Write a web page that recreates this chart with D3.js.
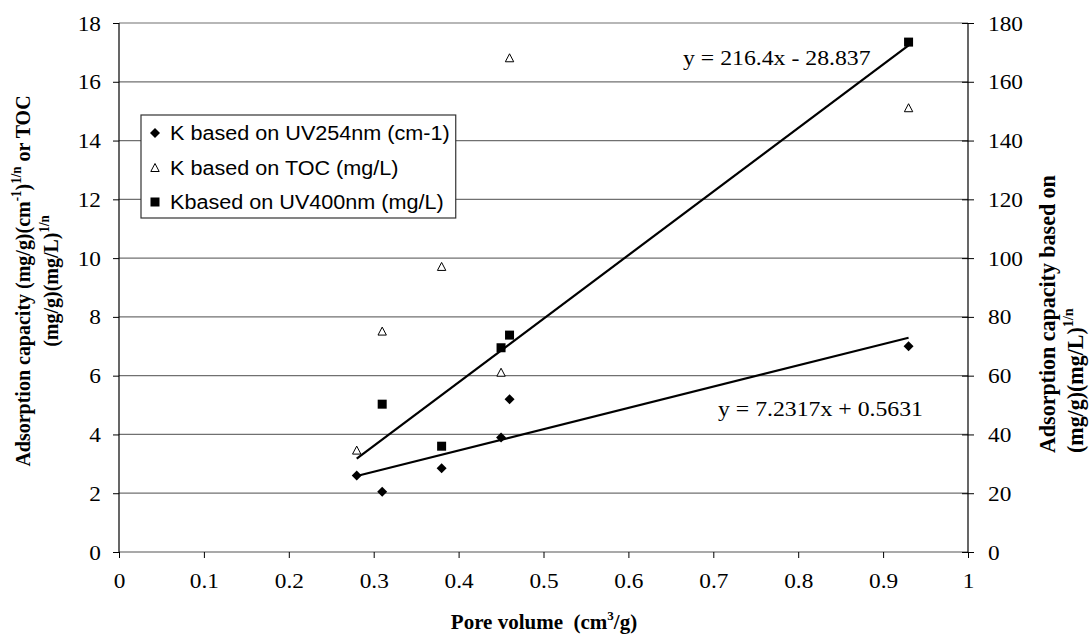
<!DOCTYPE html>
<html><head><meta charset="utf-8">
<script src="https://cdn.jsdelivr.net/npm/d3@7"></script>
<style>body{margin:0;background:#fff}svg{display:block}</style>
</head><body>
<svg id="chart" width="1092" height="642"></svg>
<script>
// ---- data ----
const poreVolume = [0.28, 0.31, 0.38, 0.45, 0.46, 0.93];
const kUV254 = [2.6, 2.05, 2.85, 3.9, 5.2, 7.0];          // left axis
const kTOC = [3.45, 7.5, 9.7, 6.1, 16.8, 15.1];          // left axis
const kUV400 = [null, 50.3, 36.0, 69.5, 73.8, 173.5];    // right axis
const xTicks = [0, 0.1, 0.2, 0.3, 0.4, 0.5, 0.6, 0.7, 0.8, 0.9, 1];
const yLeftTicks = [0, 2, 4, 6, 8, 10, 12, 14, 16, 18];
const yRightTicks = [0, 20, 40, 60, 80, 100, 120, 140, 160, 180];
const fitUV254 = {slope: 7.2317, intercept: 0.5631, label: "y = 7.2317x + 0.5631"};
const fitUV400 = {slope: 216.4, intercept: -28.837, label: "y = 216.4x - 28.837"};
const legendLabels = ["K based on UV254nm (cm-1)", "K based on TOC (mg/L)", "Kbased on UV400nm (mg/L)"];

const svg = d3.select("#chart");
const L = 119, R = 968, T = 23, B = 552;
const x = d3.scaleLinear().domain([0, 1]).range([L, R]);
const yL = d3.scaleLinear().domain([0, 18]).range([B, T]);
const yR = d3.scaleLinear().domain([0, 180]).range([B, T]);
const SERIF = "Liberation Serif, Times New Roman, serif";
const SANS = "Liberation Sans, Arial, sans-serif";

function stretch(sel, f) {
  sel.each(function () {
    const w = this.getComputedTextLength();
    d3.select(this).attr("textLength", w * f).attr("lengthAdjust", "spacingAndGlyphs");
  });
}

// gridlines
svg.append("g").selectAll("line").data(yLeftTicks.filter(d => d > 0)).join("line")
  .attr("x1", L).attr("x2", R).attr("y1", d => yL(d)).attr("y2", d => yL(d))
  .attr("stroke", "#707070").attr("stroke-width", 1.2);

// axes
const gx = svg.append("g").attr("transform", `translate(0,${B})`)
  .call(d3.axisBottom(x).tickValues(xTicks).tickSize(6).tickPadding(22).tickFormat(d3.format("")));
const gl = svg.append("g").attr("transform", `translate(${L},0)`)
  .call(d3.axisLeft(yL).tickValues(yLeftTicks).tickSize(6).tickPadding(12));
const gr = svg.append("g").attr("transform", `translate(${R},0)`)
  .call(d3.axisRight(yR).tickValues(yRightTicks).tickSizeInner(6).tickSizeOuter(0).tickPadding(14));
gr.selectAll(".tick line").attr("x1", -6);
[gx, gl, gr].forEach(g => {
  g.attr("font-family", null).attr("font-size", null);
  g.select(".domain").attr("stroke", "#000").attr("stroke-width", 1.2);
  g.selectAll(".tick line").attr("stroke", "#000");
  g.selectAll(".tick text").style("font-family", SERIF).style("font-size", "22px").attr("fill", "#000");
});
gx.select(".domain").attr("stroke", "#555").attr("d", `M${L},0H${R}`);
gl.select(".domain").attr("d", `M0,${T}V${B}`);
gr.select(".domain").attr("d", `M0,${T}V${B}`);
gx.selectAll(".tick text").attr("dy", "0.35em");
[gx, gl, gr].forEach(g => stretch(g.selectAll(".tick text"), 1.06));

// trendlines
const xr = [poreVolume[0], poreVolume[poreVolume.length - 1]];
svg.append("line")
  .attr("x1", x(xr[0])).attr("x2", x(xr[1]))
  .attr("y1", yL(fitUV254.slope * xr[0] + fitUV254.intercept))
  .attr("y2", yL(fitUV254.slope * xr[1] + fitUV254.intercept))
  .attr("stroke", "#000").attr("stroke-width", 2.2);
svg.append("line")
  .attr("x1", x(xr[0])).attr("x2", x(xr[1]))
  .attr("y1", yR(fitUV400.slope * xr[0] + fitUV400.intercept))
  .attr("y2", yR(fitUV400.slope * xr[1] + fitUV400.intercept))
  .attr("stroke", "#000").attr("stroke-width", 2.2);

// markers
function drawDiamond(g, cx, cy) {
  g.append("path").attr("d", "M0,-5L5,0L0,5L-5,0Z")
    .attr("transform", `translate(${cx},${cy})`).attr("fill", "#000");
}
function drawTri(g, cx, cy) {
  g.append("path").attr("d", "M0,-4.5L4.2,3.5L-4.2,3.5Z")
    .attr("transform", `translate(${cx},${cy})`).attr("fill", "#fff").attr("stroke", "#000").attr("stroke-width", 1);
}
function drawSq(g, cx, cy) {
  g.append("rect").attr("x", cx - 4.5).attr("y", cy - 4.5).attr("width", 9).attr("height", 9).attr("fill", "#000");
}
const mk = svg.append("g");
poreVolume.forEach((pv, i) => {
  drawTri(mk, x(pv), yL(kTOC[i]));
  if (kUV400[i] != null) drawSq(mk, x(pv), yR(kUV400[i]));
  drawDiamond(mk, x(pv), yL(kUV254[i]));
});

// equations
svg.append("text").attr("x", 683).attr("y", 65).style("font-family", SERIF).style("font-size", "22px")
  .text(fitUV400.label).call(s => stretch(s, 1.08));
svg.append("text").attr("x", 718).attr("y", 416).style("font-family", SERIF).style("font-size", "22px")
  .text(fitUV254.label).call(s => stretch(s, 1.08));

// legend
const lg = svg.append("g");
const rowY = [133, 168, 202];
const lgBox = lg.append("rect").attr("x", 141).attr("y", 115).attr("height", 103)
  .attr("fill", "#fff").attr("stroke", "#333").attr("stroke-width", 1.2);
let maxW = 0;
legendLabels.forEach((t, i) => {
  const tx = lg.append("text").attr("x", 170).attr("y", rowY[i]).attr("dy", "0.36em")
    .style("font-family", SANS).style("font-size", "20px").text(t);
  stretch(tx, 1.08);
  maxW = Math.max(maxW, +tx.attr("textLength"));
});
drawDiamond(lg, 155, rowY[0]);
drawTri(lg, 155, rowY[1]);
drawSq(lg, 155, rowY[2]);
lgBox.attr("width", 170 - 141 + maxW + 6);

// axis titles
const xt = svg.append("text").attr("x", 544).attr("y", 629).attr("text-anchor", "middle")
  .style("font-family", SERIF).style("font-size", "21px").style("font-weight", "bold");
xt.append("tspan").text("Pore volume\u00a0\u00a0(cm");
xt.append("tspan").style("font-size", "13px").attr("dy", -9).text("3");
xt.append("tspan").attr("dy", 9).text("/g)");

function rotTitle(tx, ty, anchor, size, parts) {
  const t = svg.append("text")
    .attr("transform", `translate(${tx},${ty}) scale(1.08,1) rotate(-90)`)
    .attr("text-anchor", anchor).style("font-family", SERIF).style("font-size", size + "px").style("font-weight", "bold");
  let up = false;
  parts.forEach(p => {
    const sp = t.append("tspan").text(p.t);
    if (p.sup) sp.style("font-size", (size * 0.65) + "px");
    if (p.sup && !up) { sp.attr("dy", -size * 0.42); up = true; }
    else if (!p.sup && up) { sp.attr("dy", size * 0.42); up = false; }
  });
  return t;
}
rotTitle(30, 281, "middle", 20, [
  {t: "Adsorption capacity (mg/g)(cm"}, {t: "-1", sup: true}, {t: ")"}, {t: "1/n", sup: true}, {t: " or TOC"}]);
rotTitle(58, 281, "middle", 20, [{t: "(mg/g)(mg/L)"}, {t: "1/n", sup: true}]);
rotTitle(1055, 453, "start", 22, [{t: "Adsorption capacity based on"}]);
rotTitle(1083, 453, "start", 22, [{t: "(mg/g)(mg/L)"}, {t: "1/n", sup: true}]);
</script>
</body></html>
